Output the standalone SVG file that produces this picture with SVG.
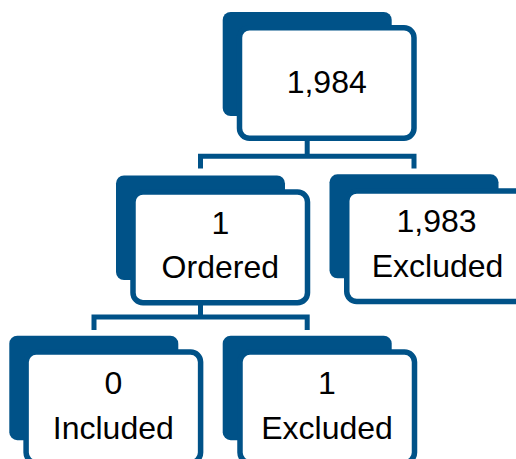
<svg xmlns="http://www.w3.org/2000/svg" width="516" height="459" viewBox="0 0 516 459">
<style>
.back{fill:#005288;}
.front{fill:#ffffff;stroke:#005288;stroke-width:5.5;}
.conn{fill:none;stroke:#005288;stroke-width:5;stroke-linejoin:miter;}
text{font-family:"Liberation Sans",Arial,sans-serif;font-size:32px;fill:#000;text-anchor:middle;}
</style>
<rect width="516" height="459" fill="#ffffff"/>
<g id="connectors">
<path class="conn" d="M307.2,138 V156.3"/>
<path class="conn" d="M200.5,168.5 V156.3 H414 V168.5"/>
<path class="conn" d="M200.5,303 V317"/>
<path class="conn" d="M94,330 V317 H307.2 V330"/>
</g>
<g id="n1984">
<rect class="back" x="222.7" y="12" width="169" height="104" rx="8"/>
<rect class="front" x="239.5" y="27.75" width="174.5" height="110.5" rx="10"/>
<text x="326.7" y="92.7">1,984</text>
</g>
<g id="nOrdered">
<rect class="back" x="116" y="175.5" width="169" height="104.5" rx="8"/>
<rect class="front" x="133" y="191.9" width="174.5" height="110.8" rx="10"/>
<text x="220.3" y="234">1</text>
<text x="220.3" y="278.3">Ordered</text>
</g>
<g id="nExcluded1983">
<rect class="back" x="329.5" y="174.3" width="169" height="104" rx="8"/>
<rect class="front" x="346.75" y="191" width="180" height="110.5" rx="10"/>
<text x="436.5" y="231.7">1,983</text>
<text x="437.5" y="277.3">Excluded</text>
</g>
<g id="nIncluded">
<rect class="back" x="9.3" y="335.7" width="169" height="104.5" rx="8"/>
<rect class="front" x="26.1" y="352.1" width="174.5" height="110.5" rx="10"/>
<text x="113.3" y="394.3">0</text>
<text x="113.3" y="439.3">Included</text>
</g>
<g id="nExcluded1">
<rect class="back" x="222.7" y="335.7" width="169" height="104.5" rx="8"/>
<rect class="front" x="240" y="352.1" width="174.5" height="110.5" rx="10"/>
<text x="327" y="394.3">1</text>
<text x="327" y="439.3">Excluded</text>
</g>
</svg>
